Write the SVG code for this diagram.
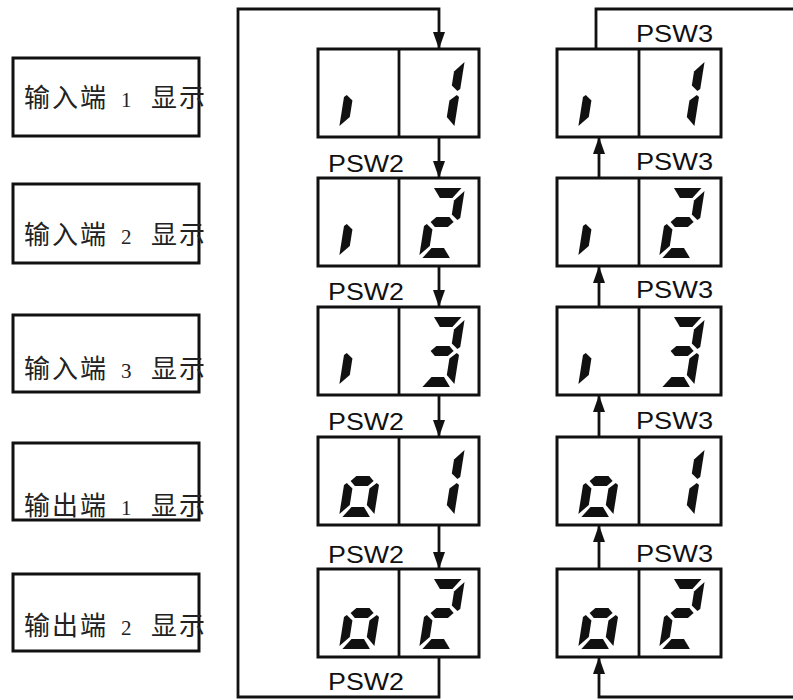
<svg xmlns="http://www.w3.org/2000/svg" xmlns:xlink="http://www.w3.org/1999/xlink" width="793" height="700" viewBox="0 0 793 700">
<style>
.box{fill:none;stroke:#111;stroke-width:3}
.disp{fill:#fff;stroke:#111;stroke-width:3}
.ln{fill:none;stroke:#111;stroke-width:2.8}
.seg{fill:#111}
.cn{font-family:"Liberation Serif","Noto Sans CJK SC",serif;font-size:26px;fill:#222;letter-spacing:2px}
.num{font-size:21px}
.psw{font-family:"Liberation Sans",Arial,sans-serif;font-size:24px;fill:#111}
</style>
<defs>
<marker id="ah" viewBox="0 0 17 12" refX="17" refY="6" markerWidth="17" markerHeight="12" markerUnits="userSpaceOnUse" orient="auto">
<path d="M0,0 L17,6 L0,12 Z" fill="#111"/>
</marker>
<polygon id="sa" points="4,0 31.5,0 24,10 11.5,10"/>
<polygon id="sb" points="35,3 35,30 32.5,32 26,26.5 26,12.5"/>
<polygon id="sc" points="35,38 35,67 26,58 26,41.5 32.5,36"/>
<polygon id="sd" points="3.5,70 31,70 23.5,60 11,60"/>
<polygon id="se" points="0,38 2.5,36 9,41.5 9,58 0,67"/>
<polygon id="sf" points="0,3 9,12.5 9,26.5 2.5,32 0,30"/>
<polygon id="sg" points="6,34 11,29 24,29 29,34 24,39 11,39"/>
<g id="di" class="seg"><use xlink:href="#se"/></g>
<g id="d1" class="seg"><use xlink:href="#sb"/><use xlink:href="#sc"/></g>
<g id="d2" class="seg"><use xlink:href="#sa"/><use xlink:href="#sb"/><use xlink:href="#sg"/><use xlink:href="#se"/><use xlink:href="#sd"/></g>
<g id="d3" class="seg"><use xlink:href="#sa"/><use xlink:href="#sb"/><use xlink:href="#sg"/><use xlink:href="#sc"/><use xlink:href="#sd"/></g>
<g id="do" class="seg"><use xlink:href="#sg"/><use xlink:href="#sc"/><use xlink:href="#sd"/><use xlink:href="#se"/></g>
</defs>
<rect width="793" height="700" fill="#fff"/>

<g id="label-in1"><rect class="box" x="13" y="58" width="186" height="78"/><text class="cn" x="24" y="107">输入端 <tspan class="num" x="121">1</tspan> <tspan x="151">显示</tspan></text></g>
<g id="label-in2"><rect class="box" x="13" y="184" width="186" height="79"/><text class="cn" x="24" y="244">输入端 <tspan class="num" x="121">2</tspan> <tspan x="151">显示</tspan></text></g>
<g id="label-in3"><rect class="box" x="13" y="315" width="186" height="77"/><text class="cn" x="24" y="378">输入端 <tspan class="num" x="121">3</tspan> <tspan x="151">显示</tspan></text></g>
<g id="label-out1"><rect class="box" x="13" y="443" width="186" height="77"/><text class="cn" x="24" y="515">输出端 <tspan class="num" x="121">1</tspan> <tspan x="151">显示</tspan></text></g>
<g id="label-out2"><rect class="box" x="13" y="574" width="186" height="77"/><text class="cn" x="24" y="635">输出端 <tspan class="num" x="121">2</tspan> <tspan x="151">显示</tspan></text></g>

<g id="connectors">
<path class="ln" d="M439,657 L439,697 L238,697 L238,9 L439,9 L439,49" marker-end="url(#ah)"/>
<path class="ln" d="M439,137 L439,178" marker-end="url(#ah)"/>
<path class="ln" d="M439,266 L439,307" marker-end="url(#ah)"/>
<path class="ln" d="M439,395 L439,437" marker-end="url(#ah)"/>
<path class="ln" d="M439,525 L439,569" marker-end="url(#ah)"/>
<path class="ln" d="M793,697 L599,697 L599,657" marker-end="url(#ah)"/>
<path class="ln" d="M599,178 L599,137" marker-end="url(#ah)"/>
<path class="ln" d="M599,307 L599,266" marker-end="url(#ah)"/>
<path class="ln" d="M599,437 L599,395" marker-end="url(#ah)"/>
<path class="ln" d="M599,569 L599,525" marker-end="url(#ah)"/>
<path class="ln" d="M596,49 L596,9 L793,9"/>
</g>

<g id="psw-labels">
<text class="psw" x="328" y="172" textLength="76" lengthAdjust="spacingAndGlyphs">PSW2</text>
<text class="psw" x="328" y="300" textLength="76" lengthAdjust="spacingAndGlyphs">PSW2</text>
<text class="psw" x="328" y="430" textLength="76" lengthAdjust="spacingAndGlyphs">PSW2</text>
<text class="psw" x="328" y="563" textLength="76" lengthAdjust="spacingAndGlyphs">PSW2</text>
<text class="psw" x="328" y="690" textLength="76" lengthAdjust="spacingAndGlyphs">PSW2</text>
<text class="psw" x="636" y="42" textLength="77" lengthAdjust="spacingAndGlyphs">PSW3</text>
<text class="psw" x="636" y="170" textLength="77" lengthAdjust="spacingAndGlyphs">PSW3</text>
<text class="psw" x="636" y="298" textLength="77" lengthAdjust="spacingAndGlyphs">PSW3</text>
<text class="psw" x="636" y="429" textLength="77" lengthAdjust="spacingAndGlyphs">PSW3</text>
<text class="psw" x="636" y="562" textLength="77" lengthAdjust="spacingAndGlyphs">PSW3</text>
</g>

<g id="disp-L1"><rect class="disp" x="318" y="49" width="161" height="88"/><line class="ln" x1="399" y1="49" x2="399" y2="137"/><use xlink:href="#di" transform="translate(350,59) skewX(-9)"/><use xlink:href="#d1" transform="translate(430,59) skewX(-9)"/></g>
<g id="disp-L2"><rect class="disp" x="318" y="178" width="161" height="88"/><line class="ln" x1="399" y1="178" x2="399" y2="266"/><use xlink:href="#di" transform="translate(350,188) skewX(-9)"/><use xlink:href="#d2" transform="translate(430,188) skewX(-9)"/></g>
<g id="disp-L3"><rect class="disp" x="318" y="307" width="161" height="88"/><line class="ln" x1="399" y1="307" x2="399" y2="395"/><use xlink:href="#di" transform="translate(350,317) skewX(-9)"/><use xlink:href="#d3" transform="translate(430,317) skewX(-9)"/></g>
<g id="disp-L4"><rect class="disp" x="318" y="437" width="161" height="88"/><line class="ln" x1="399" y1="437" x2="399" y2="525"/><use xlink:href="#do" transform="translate(350,447) skewX(-9)"/><use xlink:href="#d1" transform="translate(430,447) skewX(-9)"/></g>
<g id="disp-L5"><rect class="disp" x="318" y="569" width="161" height="88"/><line class="ln" x1="399" y1="569" x2="399" y2="657"/><use xlink:href="#do" transform="translate(350,579) skewX(-9)"/><use xlink:href="#d2" transform="translate(430,579) skewX(-9)"/></g>

<g id="disp-R1"><rect class="disp" x="557" y="49" width="164" height="88"/><line class="ln" x1="639" y1="49" x2="639" y2="137"/><use xlink:href="#di" transform="translate(589,59) skewX(-9)"/><use xlink:href="#d1" transform="translate(670,59) skewX(-9)"/></g>
<g id="disp-R2"><rect class="disp" x="557" y="178" width="164" height="88"/><line class="ln" x1="639" y1="178" x2="639" y2="266"/><use xlink:href="#di" transform="translate(589,188) skewX(-9)"/><use xlink:href="#d2" transform="translate(670,188) skewX(-9)"/></g>
<g id="disp-R3"><rect class="disp" x="557" y="307" width="164" height="88"/><line class="ln" x1="639" y1="307" x2="639" y2="395"/><use xlink:href="#di" transform="translate(589,317) skewX(-9)"/><use xlink:href="#d3" transform="translate(670,317) skewX(-9)"/></g>
<g id="disp-R4"><rect class="disp" x="557" y="437" width="164" height="88"/><line class="ln" x1="639" y1="437" x2="639" y2="525"/><use xlink:href="#do" transform="translate(589,447) skewX(-9)"/><use xlink:href="#d1" transform="translate(670,447) skewX(-9)"/></g>
<g id="disp-R5"><rect class="disp" x="557" y="569" width="164" height="88"/><line class="ln" x1="639" y1="569" x2="639" y2="657"/><use xlink:href="#do" transform="translate(589,579) skewX(-9)"/><use xlink:href="#d2" transform="translate(670,579) skewX(-9)"/></g>
</svg>
